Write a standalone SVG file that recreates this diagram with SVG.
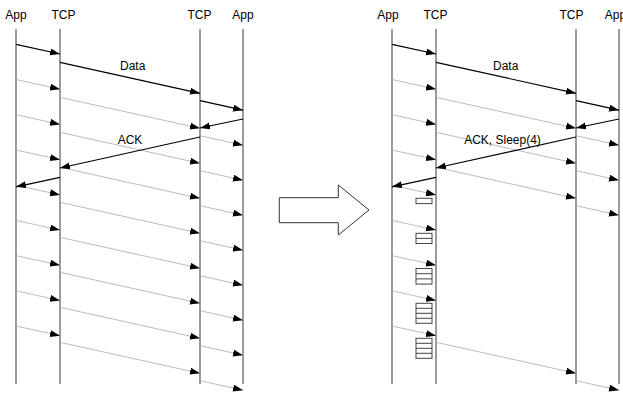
<svg xmlns="http://www.w3.org/2000/svg" width="623" height="397" viewBox="0 0 623 397">
<style>
text{font-family:"Liberation Sans",Arial,sans-serif;font-size:12px;fill:#000;text-anchor:middle}
.life{stroke:#666;stroke-width:1.3;fill:none}
.blk{stroke:#000;stroke-width:1.2;fill:none;marker-end:url(#ah)}
.gry{stroke:#aaa;stroke-width:0.8;fill:none;marker-end:url(#ah)}
.box{fill:#fff;stroke:#444;stroke-width:1}
.big{fill:#fff;stroke:#333;stroke-width:1}
</style>
<defs>
<marker id="ah" markerUnits="userSpaceOnUse" markerWidth="11" markerHeight="8" refX="10" refY="3.5" orient="auto">
<path d="M0,0 L10,3.5 L0,7 z" fill="#000"/>
</marker>
</defs>
<rect width="623" height="397" fill="#fff"/>
<g id="L-app1"><text x="16" y="18.5">App</text><line class="life" x1="16" y1="29" x2="16" y2="384"/></g>
<g id="L-tcp1"><text x="63.5" y="18.5">TCP</text><line class="life" x1="60" y1="29" x2="60" y2="384"/></g>
<g id="L-tcp2"><text x="199.5" y="18.5">TCP</text><line class="life" x1="200" y1="29" x2="200" y2="384"/></g>
<g id="L-app2"><text x="243" y="18.5">App</text><line class="life" x1="243" y1="29" x2="243" y2="384"/></g>
<g id="R-app1"><text x="388" y="18.5">App</text><line class="life" x1="392" y1="29" x2="392" y2="384"/></g>
<g id="R-tcp1"><text x="435.5" y="18.5">TCP</text><line class="life" x1="436" y1="29" x2="436" y2="384"/></g>
<g id="R-tcp2"><text x="571.5" y="18.5">TCP</text><line class="life" x1="576" y1="29" x2="576" y2="384"/></g>
<g id="R-app2"><text x="615.5" y="18.5">App</text><line class="life" x1="619" y1="29" x2="619" y2="384"/></g>
<g id="transform-arrow"><polygon class="big" points="279.3,197.7 338.3,197.7 338.3,185 369,210 338.3,235 338.3,222.7 279.3,222.7"/></g>
<g id="queues">
<rect class="box" x="416" y="198.3" width="16" height="5.3"/>
<rect class="box" x="416" y="233.3" width="16" height="10.2"/><line class="box" x1="416" y1="238.4" x2="432" y2="238.4"/>
<rect class="box" x="416" y="268.5" width="16" height="15.6"/><line class="box" x1="416" y1="273.7" x2="432" y2="273.7"/><line class="box" x1="416" y1="278.9" x2="432" y2="278.9"/>
<rect class="box" x="416" y="303.3" width="16" height="20"/><line class="box" x1="416" y1="308.3" x2="432" y2="308.3"/><line class="box" x1="416" y1="313.3" x2="432" y2="313.3"/><line class="box" x1="416" y1="318.3" x2="432" y2="318.3"/>
<rect class="box" x="416" y="338.3" width="16" height="20"/><line class="box" x1="416" y1="343.3" x2="432" y2="343.3"/><line class="box" x1="416" y1="348.3" x2="432" y2="348.3"/><line class="box" x1="416" y1="353.3" x2="432" y2="353.3"/>
</g>
<g id="connectors">
<line class="blk" x1="16" y1="44.3" x2="60" y2="54"/>
<line class="gry" x1="16" y1="79.5" x2="60" y2="89.2"/>
<line class="gry" x1="16" y1="114.7" x2="60" y2="124.4"/>
<line class="gry" x1="16" y1="150" x2="60" y2="159.7"/>
<line class="gry" x1="16" y1="185.2" x2="60" y2="194.9"/>
<line class="gry" x1="16" y1="220.4" x2="60" y2="230.1"/>
<line class="gry" x1="16" y1="255.6" x2="60" y2="265.3"/>
<line class="gry" x1="16" y1="290.8" x2="60" y2="300.5"/>
<line class="gry" x1="16" y1="326" x2="60" y2="335.7"/>
<line class="blk" x1="60" y1="62.3" x2="200" y2="93.3"/>
<line class="gry" x1="60" y1="97.3" x2="200" y2="128.3"/>
<line class="gry" x1="60" y1="132.3" x2="200" y2="163.3"/>
<line class="gry" x1="60" y1="167.3" x2="200" y2="198.3"/>
<line class="gry" x1="60" y1="202.3" x2="200" y2="233.3"/>
<line class="gry" x1="60" y1="237.3" x2="200" y2="268.3"/>
<line class="gry" x1="60" y1="272.3" x2="200" y2="303.3"/>
<line class="gry" x1="60" y1="307.3" x2="200" y2="338.3"/>
<line class="gry" x1="60" y1="342.3" x2="200" y2="373.3"/>
<line class="blk" x1="200" y1="100.7" x2="243" y2="110.2"/>
<line class="gry" x1="200" y1="135.7" x2="243" y2="145.2"/>
<line class="gry" x1="200" y1="170.7" x2="243" y2="180.2"/>
<line class="gry" x1="200" y1="205.7" x2="243" y2="215.2"/>
<line class="gry" x1="200" y1="240.7" x2="243" y2="250.2"/>
<line class="gry" x1="200" y1="275.7" x2="243" y2="285.2"/>
<line class="gry" x1="200" y1="310.7" x2="243" y2="320.2"/>
<line class="gry" x1="200" y1="345.7" x2="243" y2="355.2"/>
<line class="gry" x1="200" y1="380.7" x2="243" y2="390.2"/>
<line class="blk" x1="243" y1="119" x2="200" y2="128"/>
<line class="blk" x1="200" y1="137" x2="60" y2="168"/>
<line class="blk" x1="60" y1="177.3" x2="16" y2="186.8"/>
<line class="blk" x1="392" y1="44.3" x2="436" y2="54"/>
<line class="gry" x1="392" y1="79.5" x2="436" y2="89.2"/>
<line class="gry" x1="392" y1="114.7" x2="436" y2="124.4"/>
<line class="gry" x1="392" y1="150" x2="436" y2="159.7"/>
<line class="gry" x1="392" y1="185.2" x2="436" y2="194.9"/>
<line class="gry" x1="392" y1="220.4" x2="436" y2="230.1"/>
<line class="gry" x1="392" y1="255.6" x2="436" y2="265.3"/>
<line class="gry" x1="392" y1="290.8" x2="436" y2="300.5"/>
<line class="gry" x1="392" y1="326" x2="436" y2="335.7"/>
<line class="blk" x1="436" y1="62.3" x2="576" y2="93.3"/>
<line class="gry" x1="436" y1="97.3" x2="576" y2="128.3"/>
<line class="gry" x1="436" y1="132.3" x2="576" y2="163.3"/>
<line class="gry" x1="436" y1="167.3" x2="576" y2="198.3"/>
<line class="gry" x1="436" y1="342.3" x2="576" y2="373.3"/>
<line class="blk" x1="576" y1="100.7" x2="619" y2="110.2"/>
<line class="gry" x1="576" y1="135.7" x2="619" y2="145.2"/>
<line class="gry" x1="576" y1="170.7" x2="619" y2="180.2"/>
<line class="gry" x1="576" y1="205.7" x2="619" y2="215.2"/>
<line class="gry" x1="576" y1="380.7" x2="619" y2="390.2"/>
<line class="blk" x1="619" y1="119" x2="576" y2="128"/>
<line class="blk" x1="576" y1="137" x2="436" y2="168"/>
<line class="blk" x1="436" y1="177.3" x2="392" y2="186.8"/>
</g>
<g id="labels">
<text x="132.7" y="70">Data</text>
<text x="130" y="144">ACK</text>
<text x="505.7" y="70">Data</text>
<text x="502.5" y="144">ACK, Sleep(4)</text>
</g>
</svg>
